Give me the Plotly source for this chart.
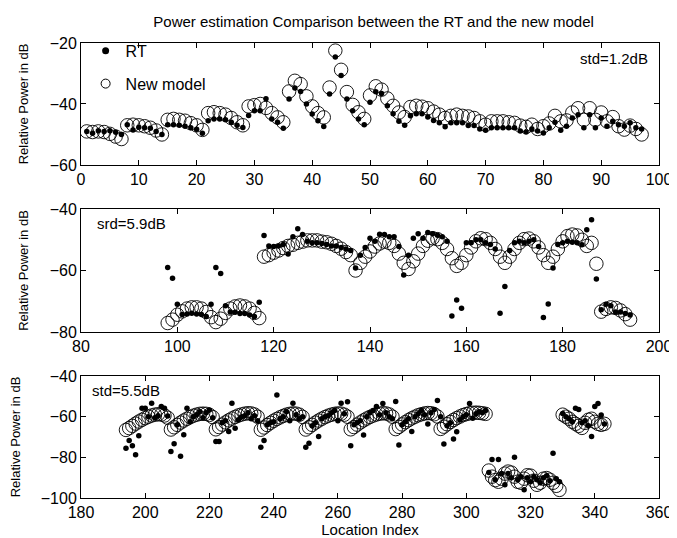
import plotly.graph_objects as go
from plotly.subplots import make_subplots

# ---- panel 1: locations 1..97 ----
loc1 = list(range(1, 98))
rt1 = [-49, -49.6, -48.8, -49, -48.8, -49.3, -50,
       -46.8, -48.5, -47.6, -47.8, -48, -49, -50,
       -46.8, -46.8, -47, -47.3, -47.8, -48.3, -49.6,
       -45.5, -44.9, -44.9, -45.2, -46, -47, -47.7,
       -43.8, -42.2, -42.2, -38.3, -44.9, -46, -48,
       -38.4, -34.8, -35.9, -40, -43.3, -45.5, -47.4,
       -36.7, -24.6, -30.7, -38.4, -42.2, -44.9, -46.8, -39.4,
       -36, -36.6, -40.6, -43.2, -45.7, -47, -43.9, -43.2, -43.2, -44.3,
       -45.4, -46.2, -47.5, -46.2, -46.2, -46.2, -47.1, -47.1, -48.2, -48.6,
       -47.8, -47.8, -47.8, -47.8, -47.8, -48.9, -49.2, -48.2, -48.9, -49.5,
       -47.8, -46, -48.6, -47.3, -44.6, -43.5, -47.8, -43.5, -47.8, -44.6,
       -47.3, -45.7, -46.8, -47.3, -46.2, -47.8, -48.2]
model1 = [-49, -49.2, -49, -49.2, -49.8, -50.7, -51.5,
          -47, -46.8, -47, -47.3, -47.8, -48.7, -50,
          -45.2, -44.9, -45.2, -45.5, -46.3, -47, -48.5,
          -43, -42.7, -43, -43.5, -44.6, -46, -47,
          -40.8, -40.4, -40, -41.3, -43, -44.4, -46,
          -35.9, -32.4, -33.5, -37.5, -40.8, -43, -44.4,
          -34.6, -22.5, -28.8, -36.1, -40.3, -42.7, -44.9, -37.2,
          -34.2, -35.3, -38.2, -40.6, -42.8, -44.3, -41, -40.6, -40.9, -41.4,
          -42.5, -43.5, -44.6, -43.9, -43.5, -43.9, -44.1, -44.6, -45.7, -46.8,
          -45.7, -45.7, -45.7, -46, -46.2, -47.1, -47.5, -46.8, -48.2, -47.3,
          -46.4, -43.9, -45.7, -45.4, -42.8, -41.4, -45.2, -41.4, -45.2, -42.8,
          -45.7, -44.3, -47.3, -48.4, -47.1, -48.2, -50]

# ---- panel 2: locations 98..194 ----
loc2 = list(range(98, 195))
rt2 = [-59, -62.5, -71, -74.3, -74.2, -73.9, -74.2, -74.3, -75, -71,
       -59, -61, -71.5, -73.5, -73.6, -74, -74, -74.5, -75, -70.3,
       -48.6, -52, -52.2, -52, -51.5, -54.6, -49, -46.4, -48.3, -50.5,
       -51, -51, -51.2, -51.5, -52, -52, -52.5, -53, -53.5, -59.2,
       -55, -52.5, -49.5, -50.5, -48.2, -48.3, -49, -49, -52.2, -61.5,
       -55, -49.5, -48, -49.5, -47.6, -48, -48.5, -49, -50.5, -74.8,
       -69.6, -72.3, -51, -51, -50, -50, -51, -51.5, -53, -73.9,
       -65.2, -53.5, -51, -50.5, -51, -50.5, -50, -52.2, -75.3, -70.9,
       -59.2, -51.5, -51, -50.5, -50.8, -51, -51.6, -46.7, -43.5, -62.8,
       -72.8, -71, -71.5, -73.5, -73.5, -74, -74.5]
model2 = [-77.1, -76, -74.4, -73.3, -72.4, -72, -72, -72.4, -73.5, -75.2,
          -76.8, -75.7, -73.8, -72.4, -71.7, -71.4, -71.7, -72.4, -73.8, -75.5,
          -55.5, -55, -54.2, -53.5, -52.7, -52, -51.6, -51, -50.6, -50.2,
          -50.2, -50.2, -50.6, -50.8, -51.3, -52, -52.9, -54, -55, -60,
          -57.5, -55.5, -53.8, -52.2, -51.2, -50.6, -51, -52, -54.5, -57.5,
          -59.5, -57, -54.5, -52, -50.3, -49.5, -49.8, -51, -53, -56,
          -58.5, -57.5, -55, -52.5, -50.5, -49.5, -49.8, -51, -53, -55.5,
          -57.5, -55.5, -53, -51, -49.8, -49.6, -50.5, -52.5, -55, -57.5,
          -55.5, -53, -50.5, -48.8, -48.3, -48.6, -50, -52, -51, -57.8,
          -73.4, -72.5, -72, -72.2, -73, -74.2, -76]

# ---- panel 3: locations 194..343 ----
loc3 = list(range(194, 344))
rt3 = [-75.5, -71.7, -74.3, -78.7, -69.4, -55.8, -55.8, -60, -53.4, -60.5, -59.5, -55, -55.8, -59.6,
       -77.1, -73.3, -64, -79.5, -68.9, -55.8, -62.5, -60, -59, -57.5, -60.5, -58, -56.7, -60.5,
       -72.2, -72.2, -63, -62, -67.3, -53.4, -65.7, -61.5, -60, -59.5, -58, -61, -59.5, -62,
       -75, -71.7, -64, -63, -62.5, -49.3, -61, -60, -57.5, -62, -53.4, -59, -61, -60,
       -75, -73, -64.5, -63, -69.7, -61, -60, -59.5, -58, -57, -62, -53.4, -58.5, -52.6,
       -74.3, -64, -63, -62, -69, -60, -58, -57, -55, -59, -53.5, -58, -60, -61,
       -52.5, -73.9, -64, -62.5, -61, -67.3, -60, -58.5, -57, -59, -63.6, -58, -56.5, -52,
       -60, -73.4, -64.5, -63, -71, -67.4, -61.5, -60, -59, -53.5, -60.8, -58.5, -57.5, -58, -57,
       -87.5, -81, -91, -81, -88, -93.5, -88, -90, -80, -91, -89.5, -96, -90, -92,
       -89.5, -91, -92.5, -90, -89, -91.5, -78, -90.5, -92,
       -58.4, -60, -61, -62.5, -55.9, -56.4, -63, -62, -64.5, -69.8, -55, -53.5, -59.2, -63.6]
model3 = [-66.5, -65.6, -64.5, -63.4, -62.4, -61.5, -60.7, -60, -59.4, -59, -58.8, -58.9, -59.4, -60.5,
          -66.3, -65.2, -64, -62.9, -61.9, -61, -60.2, -59.5, -59, -58.6, -58.5, -58.6, -59.1, -60.2,
          -66.2, -65.1, -63.9, -62.8, -61.8, -60.9, -60.1, -59.4, -58.9, -58.5, -58.3, -58.4, -58.9, -60,
          -66.4, -65.3, -64.1, -63, -62, -61.1, -60.3, -59.6, -59, -58.6, -58.4, -58.5, -59, -60.1,
          -66.3, -65.2, -64, -62.9, -61.9, -61, -60.2, -59.5, -59, -58.6, -58.4, -58.5, -59, -60,
          -66.2, -65.1, -63.9, -62.8, -61.8, -60.9, -60.1, -59.4, -58.9, -58.5, -58.3, -58.4, -58.9, -60,
          -66.1, -65, -63.8, -62.7, -61.7, -60.8, -60, -59.3, -58.8, -58.4, -58.2, -58.3, -58.8, -59.9,
          -66, -64.9, -63.7, -62.6, -61.6, -60.7, -59.9, -59.2, -58.7, -58.3, -58.1, -58, -58.1, -58.3, -58.6,
          -86.5, -89.5, -91.2, -92, -90.5, -88, -87, -87.5, -89.5, -92, -92.5, -90.5, -88.8, -89,
          -91.5, -93.5, -92.5, -90.5, -90.2, -91, -92.5, -94, -96,
          -59, -60, -61, -62.5, -63.5, -64.5, -65.5, -63, -61.5, -61, -62.5, -63.5, -64, -63.5]

panels = [(loc1, rt1, model1), (loc2, rt2, model2), (loc3, rt3, model3)]
x_ranges = [[0, 100], [80, 200], [180, 360]]
x_dticks = [10, 20, 20]
y_ranges = [[-60, -20], [-80, -40], [-100, -40]]
y_ticks = [[-60, -40, -20], [-80, -60, -40], [-100, -80, -60, -40]]
notes = ["std=1.2dB", "srd=5.9dB", "std=5.5dB"]

FONT = "Liberation Sans, Arial, Helvetica, sans-serif"

fig = make_subplots(rows=3, cols=1)

for i, (loc, rt, model) in enumerate(panels):
    r = i + 1
    fig.add_trace(go.Scatter(x=loc, y=model, mode="markers", showlegend=False,
                             marker=dict(symbol="circle-open", size=13.5, color="black",
                                         line=dict(width=0.9, color="black"))),
                  row=r, col=1)
    fig.add_trace(go.Scatter(x=loc, y=rt, mode="markers", showlegend=False,
                             marker=dict(symbol="circle", size=5.5, color="black")),
                  row=r, col=1)

# legend entries (panel 1)
fig.add_trace(go.Scatter(x=[None], y=[None], mode="markers", name="RT", legendgroup="a",
                         marker=dict(symbol="circle", size=7, color="black")), row=1, col=1)
fig.add_trace(go.Scatter(x=[None], y=[None], mode="markers", name="New model", legendgroup="b",
                         marker=dict(symbol="circle-open", size=9, color="black",
                                     line=dict(width=1, color="black"))), row=1, col=1)

domains = [[0.732, 1.0], [0.365, 0.635], [0.0, 0.268]]
for i in range(3):
    r = i + 1
    fig.update_xaxes(range=x_ranges[i], dtick=x_dticks[i], tick0=x_ranges[i][0],
                     showgrid=False, zeroline=False, showline=True, mirror="ticks",
                     linecolor="black", linewidth=1, ticks="inside", ticklen=5,
                     tickcolor="black", tickfont=dict(size=16, color="black"),
                     automargin=False, row=r, col=1)
    fig.update_yaxes(range=y_ranges[i], tickvals=y_ticks[i], domain=domains[i],
                     showgrid=False, zeroline=False, showline=True, mirror="ticks",
                     linecolor="black", linewidth=1, ticks="inside", ticklen=5,
                     tickcolor="black", tickfont=dict(size=16, color="black"),
                     title=dict(text="Relative Power in dB", font=dict(size=13, color="black"),
                                standoff=18),
                     automargin=False, row=r, col=1)

fig.update_xaxes(title=dict(text="Location Index", font=dict(size=15, color="black"), standoff=0),
                 row=3, col=1)

fig.add_annotation(text=notes[0], xref="x domain", yref="y domain", x=0.985, y=0.955,
                   xanchor="right", yanchor="top", showarrow=False,
                   font=dict(size=15, color="black"))
fig.add_annotation(text=notes[1], xref="x2 domain", yref="y2 domain", x=0.025, y=0.97,
                   xanchor="left", yanchor="top", showarrow=False,
                   font=dict(size=15, color="black"))
fig.add_annotation(text=notes[2], xref="x3 domain", yref="y3 domain", x=0.015, y=0.97,
                   xanchor="left", yanchor="top", showarrow=False,
                   font=dict(size=15, color="black"))

fig.update_layout(
    width=677, height=538,
    margin=dict(l=73, r=26, t=35, b=48, autoexpand=False),
    paper_bgcolor="white", plot_bgcolor="white",
    font=dict(family=FONT, color="black"),
    title=dict(text="Power estimation Comparison between the RT and the new model",
               x=0.54, xanchor="center", y=0.985, yanchor="top",
               font=dict(size=15, color="black")),
    legend=dict(x=0.008, y=1.02, xanchor="left", yanchor="top",
                bgcolor="rgba(0,0,0,0)", font=dict(size=16, color="black"),
                tracegroupgap=9, itemwidth=30),
)

fig.write_html("out.html")
